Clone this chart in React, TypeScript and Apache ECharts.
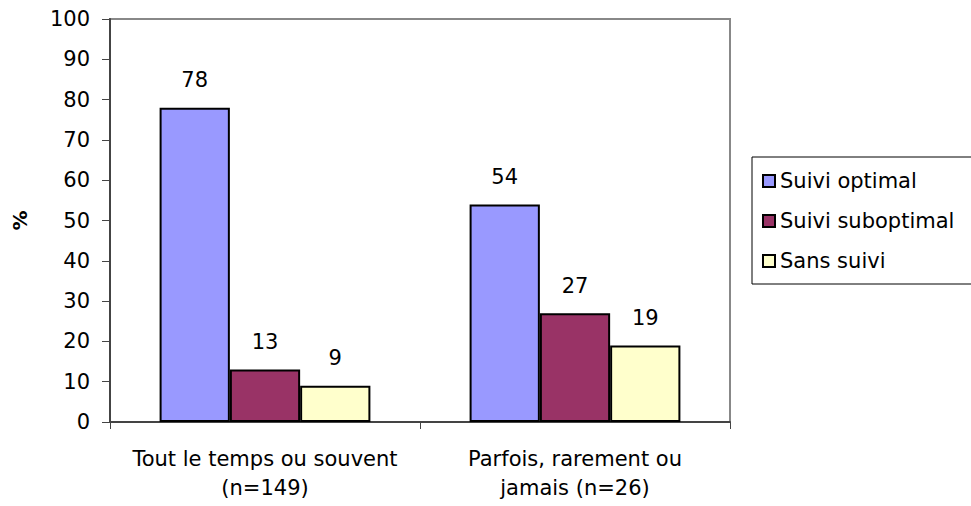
import React, { useEffect, useRef } from "react";
import * as echarts from "echarts";

const categories = ["Tout le temps ou souvent\n(n=149)", "Parfois, rarement ou\njamais (n=26)"];
const seriesNames = ["Suivi optimal", "Suivi suboptimal", "Sans suivi"];
const suiviOptimal = [78, 54];
const suiviSuboptimal = [13, 27];
const sansSuivi = [9, 19];
const seriesColors = ["#9999FF", "#993366", "#FFFFCC"];

const FONT = "DejaVu Sans";

export default function App() {
  const ref = useRef<HTMLDivElement>(null);
  useEffect(() => {
    if (!ref.current) return;
    const chart = echarts.init(ref.current, undefined, { renderer: "svg" });
    const values = [suiviOptimal, suiviSuboptimal, sansSuivi];
    chart.setOption({
      animation: false,
      backgroundColor: "#ffffff",
      textStyle: { fontFamily: FONT },
      grid: {
        left: 110,
        top: 19,
        width: 620,
        height: 403,
        outerBoundsMode: "none",
        containLabel: false,
        show: true,
        borderColor: "#888888",
        borderWidth: 2,
        backgroundColor: "transparent",
      },
      legend: {
        orient: "vertical",
        left: 752,
        top: 157,
        borderColor: "#000000",
        borderWidth: 1,
        padding: [13, 30, 12, 10],
        itemWidth: 12,
        itemHeight: 12,
        itemGap: 18,
        icon: "rect",
        textStyle: { fontFamily: FONT, fontSize: 21, color: "#000", lineHeight: 22 },
        data: seriesNames,
      },
      xAxis: {
        type: "category",
        data: categories,
        axisLine: { show: true, lineStyle: { color: "#444444", width: 2 } },
        axisTick: { show: true, length: 7, lineStyle: { color: "#444444", width: 1 } },
        axisLabel: {
          fontFamily: FONT,
          fontSize: 21,
          color: "#000",
          margin: 22,
          lineHeight: 29,
          interval: 0,
        },
        splitLine: { show: false },
      },
      yAxis: {
        type: "value",
        min: 0,
        max: 100,
        interval: 10,
        name: "%",
        nameLocation: "middle",
        nameGap: 80,
        nameRotate: 90,
        nameTextStyle: { fontFamily: FONT, fontSize: 20, fontWeight: "bold", color: "#000" },
        axisLine: { show: true, lineStyle: { color: "#444444", width: 2 } },
        axisTick: { show: true, length: 8, lineStyle: { color: "#444444", width: 1 } },
        axisLabel: { fontFamily: FONT, fontSize: 21, color: "#000", margin: 20 },
        splitLine: { show: false },
      },
      series: seriesNames.map((name, i) => ({
        name,
        type: "bar",
        data: values[i],
        barGap: "0%",
        barCategoryGap: "32%",
        itemStyle: { color: seriesColors[i], borderColor: "#000000", borderWidth: 2 },
        label: {
          show: true,
          position: "top",
          distance: 17,
          fontFamily: FONT,
          fontSize: 21,
          color: "#000",
        },
      })),
    });
    return () => chart.dispose();
  }, []);
  return (
    <div
      ref={ref}
      style={{ position: "fixed", left: 0, top: 0, width: 971, height: 506, background: "#fff" }}
    />
  );
}
